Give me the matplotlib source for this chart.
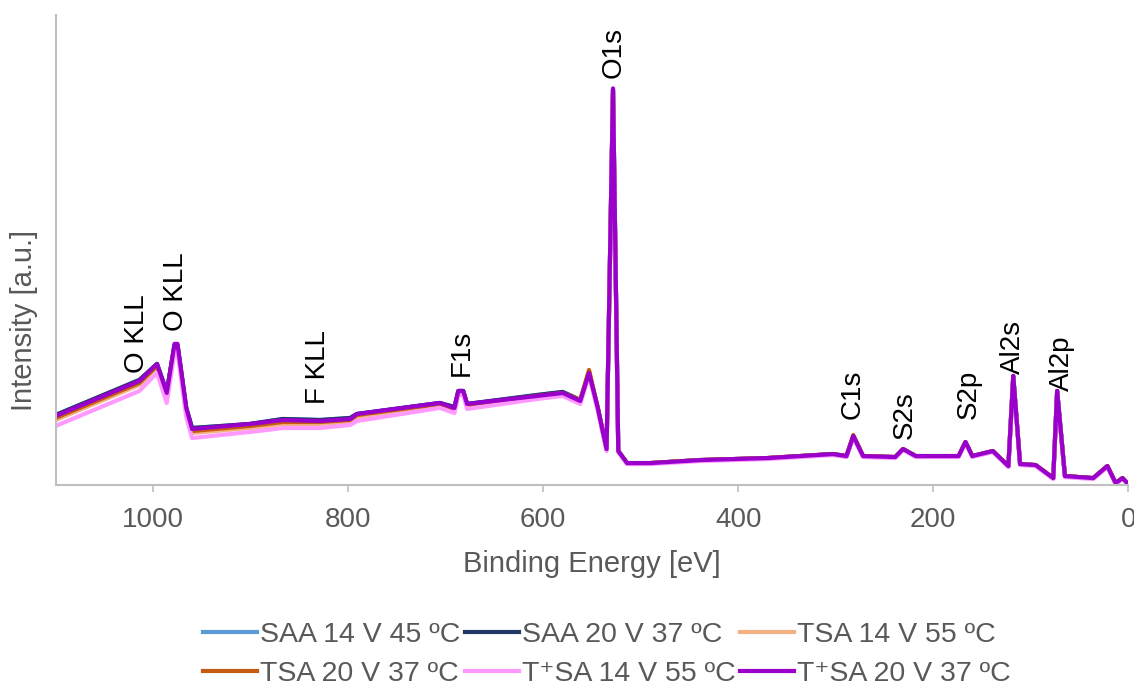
import numpy as np
import matplotlib
matplotlib.use('Agg')
import matplotlib.pyplot as plt

plt.rcParams['font.family'] = ['Liberation Sans', 'DejaVu Sans']

# binding energy [eV] of the read points
energy = [1100, 1014, 996, 986, 978, 975, 966, 960, 901, 867, 829, 798, 791,
          706, 691, 687, 682, 678, 606, 580, 562, 553, 544, 539, 535, 528.4,
          523, 514, 490, 439, 370, 303, 289, 282, 272, 239, 231, 218, 174,
          167, 160, 139, 123, 118, 111, 95, 77, 73, 65, 36, 21.5, 13, 6, 0]

# intensity [a.u.]
tpsa_20_37 = [69, 104, 121, 92, 141, 141, 77, 56, 61, 65, 64, 66, 71,
              82, 77, 94, 94, 81, 89, 92, 84, 112, 77, 54, 36, 396,
              34, 22, 22, 25, 27, 31, 29, 49, 29, 28, 36, 29, 29,
              43, 29, 34, 19, 109, 21, 20, 7, 94, 9, 7, 19, 2, 7, 1]
tpsa_14_55 = [59, 94, 112, 82, 133, 133, 68, 47, 53, 57, 57, 60, 64,
              77, 72, 90, 90, 76, 86, 89, 81, 109, 74, 52, 34, 393,
              33, 21, 21, 24, 26, 30, 28, 47, 28, 27, 35, 28, 28,
              42, 28, 33, 18, 107, 20, 19, 6, 92, 8, 6, 18, 1, 6, 1]
tsa_14_55 = [65, 100, 118, 88, 138, 138, 73, 52, 57, 61, 61, 63, 68,
             80, 75, 92, 92, 79, 88, 91, 84, 114, 76, 53, 35, 394,
             33, 22, 22, 25, 27, 31, 29, 49, 29, 28, 36, 29, 29,
             43, 29, 34, 19, 108, 21, 20, 7, 93, 9, 7, 19, 2, 7, 1]
tsa_20_37 = [67, 102, 119, 90, 139, 139, 75, 54, 59, 63, 63, 65, 70,
             81, 76, 93, 93, 80, 89, 92, 85, 115, 77, 54, 36, 395,
             34, 22, 22, 25, 27, 31, 29, 50, 29, 28, 36, 29, 29,
             43, 29, 34, 19, 108, 21, 20, 7, 93, 9, 7, 19, 2, 7, 1]
saa_14_45 = [70, 105, 121, 93, 140, 140, 77, 57, 61, 66, 65, 67, 71,
             82, 78, 94, 94, 81, 90, 93, 85, 112, 77, 54, 36, 395,
             34, 22, 22, 25, 27, 31, 29, 49, 29, 28, 36, 29, 29,
             43, 29, 34, 19, 109, 21, 20, 7, 94, 9, 7, 19, 2, 7, 1]
saa_20_37 = [70, 105, 121, 93, 140, 140, 77, 57, 61, 66, 65, 67, 71,
             82, 78, 94, 94, 81, 90, 93, 85, 112, 77, 54, 36, 395,
             34, 22, 22, 25, 27, 31, 29, 49, 29, 28, 36, 29, 29,
             43, 29, 34, 19, 109, 21, 20, 7, 94, 9, 7, 19, 2, 7, 1]

series_names = ['SAA 14 V 45 ºC', 'SAA 20 V 37 ºC', 'TSA 14 V 55 ºC',
                'TSA 20 V 37 ºC', 'T⁺SA 14 V 55 ºC', 'T⁺SA 20 V 37 ºC']
series_values = [saa_14_45, saa_20_37, tsa_14_55, tsa_20_37, tpsa_14_55, tpsa_20_37]
series_colors = ['#5B9BD5', '#203864', '#F4B183', '#C55A11', '#FF99FF', '#9900CC']

# peak labels (text, energy, intensity at the text bottom)
peak_names = ['O KLL', 'O KLL', 'F KLL', 'F1s', 'O1s', 'C1s', 'S2s', 'S2p', 'Al2s', 'Al2p']
peak_energy = [1017, 976, 831, 684, 528, 283, 229, 164, 118, 68]
peak_text_y = [112, 154, 81, 109, 406, 66, 46, 66, 111, 94]

grey = '#595959'
axis_grey = '#BFBFBF'

fig = plt.figure(figsize=(11.34, 6.95), dpi=100)
ax = fig.add_axes([0.049, 0.302, 0.946, 0.676])

lines = []
for name, vals, col in zip(series_names, series_values, series_colors):
    ln, = ax.plot(energy, vals, color=col, lw=3, label=name, solid_joinstyle='round')
    lines.append(ln)

for name, e, yt in zip(peak_names, peak_energy, peak_text_y):
    ax.text(e, yt, name, rotation=90, ha='center', va='bottom',
            fontsize=20, color='black')

ax.set_xlim(1100, 0)
ax.set_ylim(0, 469)
ax.set_xticks([1000, 800, 600, 400, 200, 0])
ax.set_yticks([])
ax.tick_params(axis='x', colors=axis_grey, labelcolor=grey, labelsize=20,
               length=5, width=1.2, pad=11)
for s in ['top', 'right']:
    ax.spines[s].set_visible(False)
for s in ['left', 'bottom']:
    ax.spines[s].set_color(axis_grey)
    ax.spines[s].set_linewidth(1.5)

ax.set_xlabel('Binding Energy [eV]', fontsize=21, color=grey, labelpad=12)
ax.set_ylabel('Intensity [a.u.]', fontsize=21, color=grey)
ax.yaxis.set_label_coords(-0.016, 0.35)

# row-wise legend order
order = [0, 3, 1, 4, 2, 5]
leg = fig.legend([lines[i] for i in order], [series_names[i] for i in order],
                 loc='center', bbox_to_anchor=(0.535, 0.058), ncol=3,
                 frameon=False, fontsize=20.5, handlelength=1.9,
                 handletextpad=0.1, columnspacing=0.15, labelspacing=0.45)
for t in leg.get_texts():
    t.set_color(grey)

fig.savefig('out.png', dpi=100)
